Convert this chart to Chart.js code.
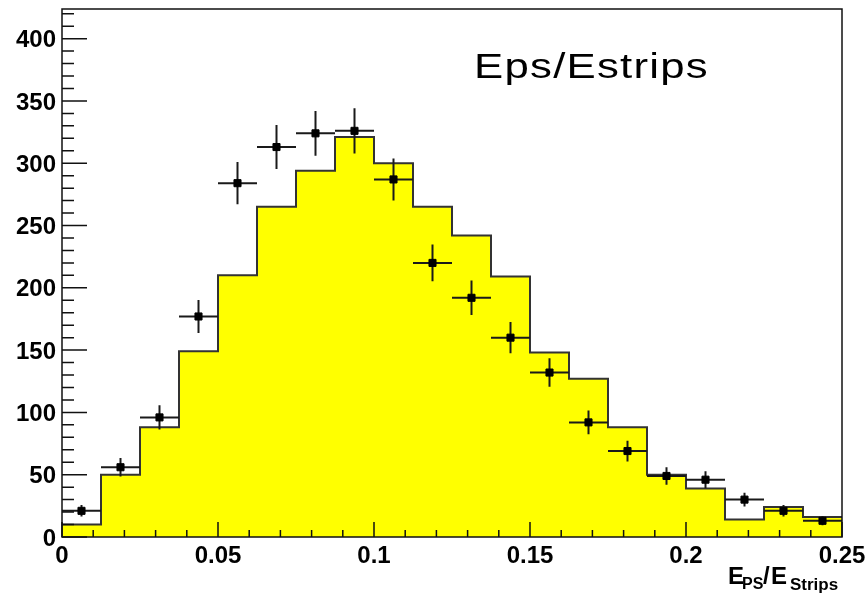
<!DOCTYPE html>
<html><head><meta charset="utf-8">
<script src="https://cdn.jsdelivr.net/npm/chart.js@4.4.1/dist/chart.umd.min.js"></script>
<style>html,body{margin:0;padding:0;background:#fff}canvas{display:block}</style>
</head><body>
<canvas id="c" width="865" height="597"></canvas>
<script>
// ---- data ----
const binEdges = [0,0.0125,0.025,0.0375,0.05,0.0625,0.075,0.0875,0.1,0.1125,0.125,0.1375,0.15,0.1625,0.175,0.1875,0.2,0.2125,0.225,0.2375,0.25];
const binCenters = [0.00625,0.01875,0.03125,0.04375,0.05625,0.06875,0.08125,0.09375,0.10625,0.11875,0.13125,0.14375,0.15625,0.16875,0.18125,0.19375,0.20625,0.21875,0.23125,0.24375];
const mcCounts = [10,50,88,149,210,265,294,321,300,265,242,209,148,127,88,50,39,14,24,16];
const dataCounts = [21,56,96,177,284,313,324,326,287,220,192,160,132,92,69,49,46,30,21,13];
const dataErrors = [4.6,7.5,9.8,13.3,16.9,17.7,18.0,18.1,16.9,14.8,13.9,12.6,11.5,9.6,8.3,7.0,6.8,5.5,4.6,3.6];
const xTickValues = [0,0.05,0.1,0.15,0.2,0.25];
const xTickLabels = ['0','0.05','0.1','0.15','0.2','0.25'];
const yTickValues = [0,50,100,150,200,250,300,350,400];
const titleText = 'Eps/Estrips';
const yMax = 423.8;

const FONT = '"Liberation Sans", Arial, Helvetica, sans-serif';

const histPoints = binEdges.map((e, i) => ({x: e, y: mcCounts[Math.min(i, mcCounts.length - 1)]}));
const dataPoints = binCenters.map((c, i) => ({x: c, y: dataCounts[i]}));

const rootStyle = {
  id: 'rootStyle',
  beforeDatasetDraw(chart, args) {
    if (args.index !== 0) return;
    const {ctx, scales: {x, y}} = chart;
    ctx.save();
    ctx.strokeStyle = '#1a1a1a';
    ctx.lineWidth = 2;
    ctx.beginPath();
    for (let i = 0; i < dataCounts.length; i++) {
      const xc = x.getPixelForValue(binCenters[i]);
      const yc = y.getPixelForValue(dataCounts[i]);
      ctx.moveTo(x.getPixelForValue(binEdges[i]), yc);
      ctx.lineTo(x.getPixelForValue(binEdges[i + 1]), yc);
      ctx.moveTo(xc, y.getPixelForValue(dataCounts[i] + dataErrors[i]));
      ctx.lineTo(xc, y.getPixelForValue(dataCounts[i] - dataErrors[i]));
    }
    ctx.stroke();
    ctx.restore();
  },
  afterDatasetsDraw(chart) {
    const {ctx, chartArea: a, scales: {x, y}} = chart;
    ctx.save();
    ctx.strokeStyle = '#111';
    ctx.lineWidth = 1.5;
    ctx.beginPath();
    for (let k = 0; k <= 42; k++) {
      const py = y.getPixelForValue(k * 10);
      const len = k % 5 === 0 ? 25 : 12;
      ctx.moveTo(a.left, py); ctx.lineTo(a.left + len, py);
    }
    for (let k = 0; k <= 25; k++) {
      const px = x.getPixelForValue(k / 100);
      const len = k % 5 === 0 ? 15 : 7;
      ctx.moveTo(px, a.bottom); ctx.lineTo(px, a.bottom - len);
    }
    ctx.stroke();
    ctx.strokeRect(a.left, a.top, a.right - a.left, a.bottom - a.top);
    ctx.restore();
  },
  afterDraw(chart) {
    const {ctx} = chart;
    ctx.save();
    ctx.fillStyle = '#000';
    // title
    ctx.font = '35px ' + FONT;
    ctx.letterSpacing = '1px';
    ctx.textBaseline = 'alphabetic';
    ctx.textAlign = 'left';
    ctx.translate(474, 78);
    ctx.scale(1.25, 1);
    ctx.fillText(titleText, 0, 0);
    ctx.restore();
    // axis title E_PS / E_Strips
    ctx.save();
    ctx.fillStyle = '#000';
    ctx.textAlign = 'left';
    ctx.textBaseline = 'alphabetic';
    ctx.font = 'bold 24px ' + FONT;
    ctx.fillText('E', 728, 584);
    ctx.font = 'bold 16px ' + FONT;
    ctx.fillText('PS', 742, 589);
    ctx.font = 'bold 24px ' + FONT;
    ctx.fillText('/', 763, 584);
    ctx.fillText('E', 771, 584);
    ctx.font = 'bold 17px ' + FONT;
    ctx.fillText('Strips', 790, 590);
    ctx.restore();
  }
};

new Chart(document.getElementById('c'), {
  type: 'line',
  data: {
    datasets: [
      {
        label: 'data',
        data: dataPoints,
        showLine: false,
        pointStyle: 'rect',
        pointRadius: 5,
        pointBorderWidth: 1,
        pointBackgroundColor: '#000',
        pointBorderColor: '#000',
        pointHoverRadius: 5
      },
      {
        label: 'mc',
        data: histPoints,
        stepped: 'before',
        fill: 'origin',
        backgroundColor: '#ffff00',
        borderColor: '#333',
        borderWidth: 2,
        pointRadius: 0,
        pointHoverRadius: 0
      }
    ]
  },
  options: {
    responsive: false,
    animation: false,
    events: [],
    layout: {padding: {top: 9, right: 23, bottom: 0, left: 0}},
    plugins: {legend: {display: false}, tooltip: {enabled: false}, title: {display: false}},
    scales: {
      x: {
        type: 'linear', min: 0, max: 0.25,
        grid: {display: false, drawTicks: false},
        border: {display: false},
        afterBuildTicks: s => { s.ticks = xTickValues.map(v => ({value: v})); },
        ticks: {
          callback: (v, i) => xTickLabels[i],
          font: {family: FONT, size: 24, weight: 'bold'},
          color: '#000', padding: 5, maxRotation: 0, autoSkip: false
        },
        afterFit: s => { s.height = 60; s.paddingLeft = 0; s.paddingRight = 0; }
      },
      y: {
        min: 0, max: yMax,
        grid: {display: false, drawTicks: false},
        border: {display: false},
        afterBuildTicks: s => { s.ticks = yTickValues.map(v => ({value: v})); },
        ticks: {
          callback: v => String(v),
          font: {family: FONT, size: 24, weight: 'bold'},
          color: '#000', padding: 6, labelOffset: 2, autoSkip: false
        },
        afterFit: s => { s.width = 62; s.paddingTop = 0; s.paddingBottom = 0; }
      }
    }
  },
  plugins: [rootStyle]
});
</script></body></html>
